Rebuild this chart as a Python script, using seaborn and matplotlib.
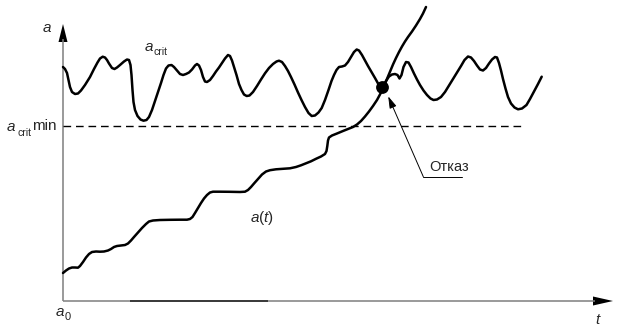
import numpy as np
import pandas as pd
import matplotlib
matplotlib.use("Agg")
import matplotlib.pyplot as plt
import seaborn as sns

# ---- data (t: time, a: size) ----
acrit_t = [0, 2, 4, 5.5, 7, 9, 12, 15, 18, 22, 27, 31, 34.5, 37, 39.7, 42, 44, 46, 49, 51.5,
           54, 57, 61, 64, 66, 67.5, 68.5, 69.5, 70.5, 72, 74.5, 77.5, 80.5, 83.5, 86, 89, 92,
           95, 98, 100.5, 103, 105.5, 108.5, 111, 114, 117, 120, 123, 126, 129, 132, 134, 136,
           138, 140, 142, 144, 147, 150, 153, 156, 159, 162, 165, 167, 169, 171, 173.5, 176,
           178.5, 181, 183.7, 186.5, 190, 194, 198, 202, 206, 210, 213.5, 216, 219, 222, 225,
           228, 231.5, 235, 238.5, 242, 245.5, 248.7, 252, 255.5, 258.7, 262, 265.5, 268.5,
           271, 273.5, 276, 279, 282, 285, 288, 291, 293.7, 296, 299, 302, 305, 308.5, 312,
           315, 317, 320, 323, 326, 329, 332, 334.5, 336.5, 338.5, 340.5, 343, 345.5, 348, 351,
           354, 357, 360.5, 364, 367.5, 370.5, 374, 378, 382, 386, 390, 394, 398, 401.5, 405,
           408, 411, 414, 417, 420, 423, 426, 429, 432, 434, 436, 438, 440, 442.5, 445, 448,
           451.5, 455, 459, 463.5, 467, 471, 475, 478.7]
acrit_a = [234, 232, 228, 221, 214, 209, 207, 207.5, 210.5, 216, 224, 232, 238.5, 242.5,
           244.3, 243.5, 241, 237.5, 233, 232, 233.5, 236, 239.5, 241.5, 241, 236, 226, 211,
           199, 191, 185, 181.5, 180.3, 181, 184, 191, 200, 209, 218, 226, 232.5, 235.5, 236,
           234, 230.5, 227, 226, 227, 228.5, 231.5, 235.5, 237, 235.5, 231, 224, 219.5, 219,
           221, 225, 229.5, 233.5, 238, 242.5, 246, 245, 240.5, 234, 226, 217, 211, 206.5,
           205, 205.5, 209, 215, 221.5, 227.7, 233, 237, 239.5, 240.3, 239, 235, 230, 224,
           216.5, 208.5, 201, 194, 188, 185, 185.5, 188.5, 193, 201, 211, 220, 226, 231, 234,
           234.5, 235.5, 239, 244, 249, 251.5, 250.5, 246, 240.5, 235, 229, 223, 217.5, 214,
           215, 220, 224.5, 226.5, 227, 226, 222.5, 226, 234, 239, 238.5, 234, 227.5, 221.5,
           216, 210.5, 206, 202.5, 201, 201.5, 204, 209, 215.5, 222, 228.5, 235, 241, 244.5,
           243.5, 240, 235.5, 231.5, 230.5, 233, 237.5, 241.5, 244, 243.5, 238, 230.5, 222,
           212.5, 204, 197.5, 193.5, 191.7, 192.5, 196, 202, 209.5, 217, 224.3]

at_t = [0, 3, 6, 9, 12, 15, 17, 20, 23, 26, 29, 33, 37, 41, 45, 48, 51, 54, 58, 62, 65, 68,
        71, 75, 79, 83, 86, 90, 97, 107, 117, 124, 127, 129.5, 132, 135, 138, 141, 144, 147,
        150, 157, 167, 177, 182, 185, 188, 191, 195, 199, 203, 207, 213, 220, 227, 233, 238,
        243, 248, 253, 258, 262, 263.5, 264.3, 265, 266, 269, 274, 280, 285, 290, 294, 298,
        302, 306, 310, 314, 317.5, 320, 322.5, 325, 327.5, 330, 333, 336, 339, 342, 345, 349,
        353, 357, 360, 363]
at_a = [28, 30.5, 32.5, 33.5, 33.5, 33.3, 35, 39, 43.5, 47, 49, 49.5, 49.3, 49.5, 50.5, 52,
        54, 55, 55.5, 56, 57.5, 60.5, 64, 68.5, 73, 77, 79.5, 80.5, 81, 81.2, 81.3, 81.3, 82,
        84, 88, 93, 98, 102.5, 106, 108.5, 109.3, 109.3, 109.2, 109, 109.3, 111, 114, 117.5,
        122, 126.5, 129.5, 130.8, 131.7, 132.2, 132.7, 134, 135.7, 137.7, 139.7, 142.2, 144.5,
        147, 150, 155, 160.5, 163.5, 165.5, 167.5, 170, 172, 174, 176.5, 180, 184.5, 189.5,
        195, 201, 207.5, 213, 218.5, 224.5, 230.5, 236.5, 243, 249, 254.5, 259.5, 264, 269.5,
        275.5, 282, 287.5, 294]

acrit_min = 175
dash_t = [0, 460]
fail_t = [318.7]
fail_a = [213.7]

# ---- style ----
sns.set_theme(style="white")
plt.rcParams["font.family"] = ["Liberation Sans", "DejaVu Sans"]
plt.rcParams["mathtext.fontset"] = "custom"
plt.rcParams["mathtext.rm"] = "Liberation Sans"
plt.rcParams["mathtext.it"] = "Liberation Sans:italic"

fig = plt.figure(figsize=(6.2, 3.31), dpi=100)
ax = fig.add_axes([0, 0, 1, 1])
ax.set_xlim(-63, 557)
ax.set_ylim(-30, 301)
ax.axis("off")

gray = "#7f7f7f"
# axes
ax.plot([0, 0], [0, 262], color=gray, lw=1.1, solid_capstyle="butt")
ax.plot([0, 532], [0, 0], color=gray, lw=1.1, solid_capstyle="butt")
ax.plot([67, 205], [0, 0], color="#202020", lw=1.1, solid_capstyle="butt")
ax.fill([-4.5, 4.5, 0], [259, 259, 277], color="black", lw=0)
ax.fill([530, 530, 550], [-4.5, 4.5, 0], color="black", lw=0)

# dashed a_crit min
sns.lineplot(x=dash_t, y=[acrit_min] * len(dash_t), ax=ax, color="black", lw=1.0,
             linestyle=(0, (5.5, 3.5)))

# curves
sns.lineplot(x=acrit_t, y=acrit_a, sort=False, estimator=None, ax=ax, color="black",
             lw=1.8, solid_joinstyle="round", solid_capstyle="round")
sns.lineplot(x=at_t, y=at_a, sort=False, estimator=None, ax=ax, color="black",
             lw=1.8, solid_joinstyle="round", solid_capstyle="round")
sns.scatterplot(x=fail_t, y=fail_a, ax=ax, color="black", s=85, edgecolor="black",
                linewidth=0, zorder=5)

# failure annotation
ax.plot([360.3, 398.7], [124.3, 124.3], color="black", lw=0.7)
ax.annotate("", xy=(fail_t[0] + 6.5, fail_a[0] - 9), xytext=(360.3, 124.3),
            arrowprops=dict(arrowstyle="-|>,head_length=0.6,head_width=0.18",
                            color="black", lw=0.7, shrinkA=0, shrinkB=0))
ax.text(366, 134, "Отказ", fontsize=10.5, ha="left", va="center")

# labels
fs = 11
ax.text(-16, 273, r"$a$", fontsize=fs, ha="center", va="center")
ax.text(86, 254, r"$a$", fontsize=fs, ha="center", va="center")
ax.text(91, 249, "crit", fontsize=7.5, ha="left", va="center")
ax.text(-52, 174, r"$a$", fontsize=fs, ha="center", va="center")
ax.text(-45.5, 168, "crit", fontsize=7.5, ha="left", va="center")
ax.text(-19, 175, "min", fontsize=fs, ha="center", va="center")
ax.text(-3, -11, r"$a$", fontsize=fs, ha="center", va="center")
ax.text(4.5, -16, "0", fontsize=8, ha="center", va="center")
ax.text(535, -19, r"$t$", fontsize=fs, ha="center", va="center")
ax.text(199, 83, r"$a(t)$", fontsize=fs, ha="center", va="center")

fig.savefig("out.png", dpi=100)
